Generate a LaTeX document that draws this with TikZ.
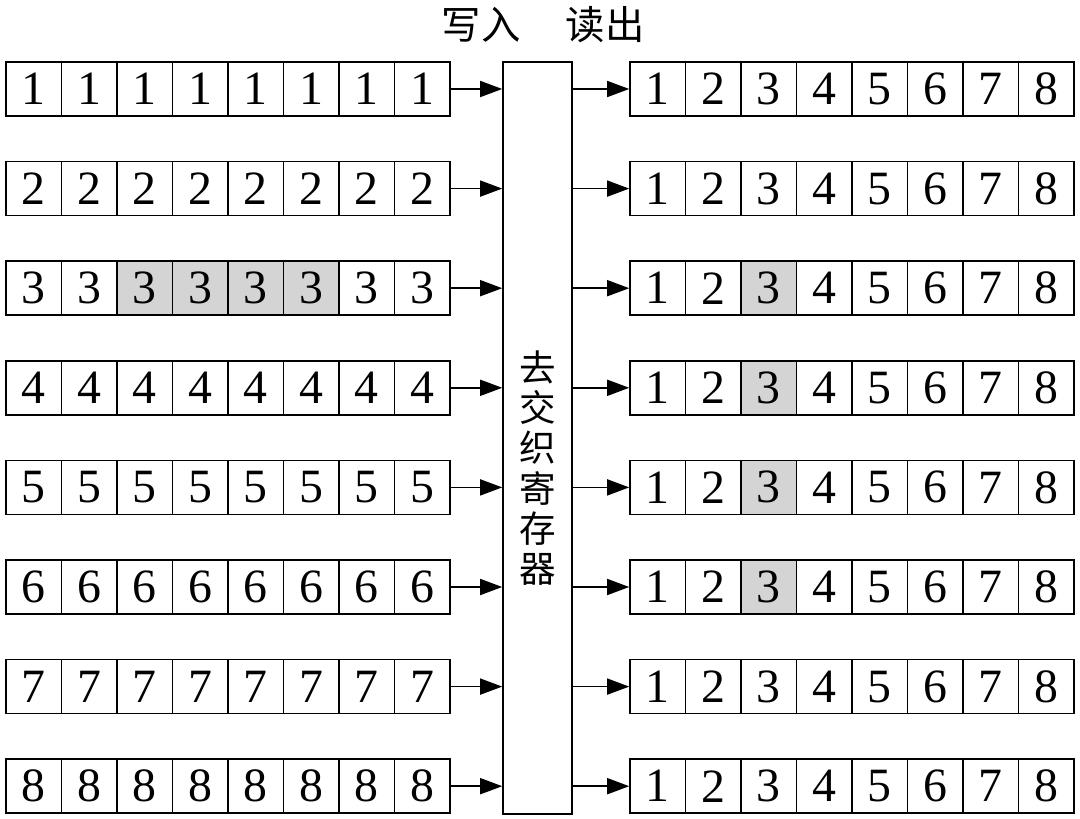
\documentclass[tikz,border=0pt]{standalone}
\usepackage{fontspec}
\setmainfont{Liberation Serif}
\newfontfamily\cjk{Noto Sans CJK SC}
\usetikzlibrary{arrows.meta}
\definecolor{cellgray}{RGB}{212,212,212}

\tikzset{
  cell/.style={draw,line width=1.1pt,minimum width=1.3875cm,minimum height=1.35cm,inner sep=0pt,font=\fontsize{34}{34}\selectfont},
  grayc/.style={cell,fill=cellgray},
  arr/.style={-{Triangle[length=0.55cm,width=0.4cm]},line width=1.1pt},
  hanzi/.style={font=\cjk\fontsize{26}{28.6}\selectfont}
}

\begin{document}
\begin{tikzpicture}[x=0.025cm,y=-0.025cm]
\useasboundingbox (0,0) rectangle (1080,819);

\node [hanzi,font=\cjk\fontsize{28}{28}\selectfont] (write) at (481,25) {写入};
\node [hanzi,font=\cjk\fontsize{28}{28}\selectfont] (read) at (605,25) {读出};

\node [draw,line width=1.1pt,minimum width=1.725cm,minimum height=18.8cm] (reg) at (537.5,438) {};
\node [hanzi,align=center] (regtext) at (538,468) {去\\交\\织\\寄\\存\\器};

\foreach \r in {1,...,8}{
  \foreach \c in {1,...,8}{
    \def\ls{cell}\def\rs{cell}
    \ifnum\r=3 \ifnum\c>2 \ifnum\c<7 \def\ls{grayc}\fi\fi\fi
    \ifnum\c=3 \ifnum\r>2 \ifnum\r<7 \def\rs{grayc}\fi\fi\fi
    \node [\ls] (l\r\c) at ({6+55.5*(\c-0.5)},{89+99.6*(\r-1)}) {\r};
    \node [\rs] (r\r\c) at ({630+55.5*(\c-0.5)},{89+99.6*(\r-1)}) {\c};
  }
  \draw [arr] (l\r8.east) -- (l\r8.east -| reg.west);
  \draw [arr] (reg.east |- r\r1.west) -- (r\r1.west);
}
\end{tikzpicture}
\end{document}
